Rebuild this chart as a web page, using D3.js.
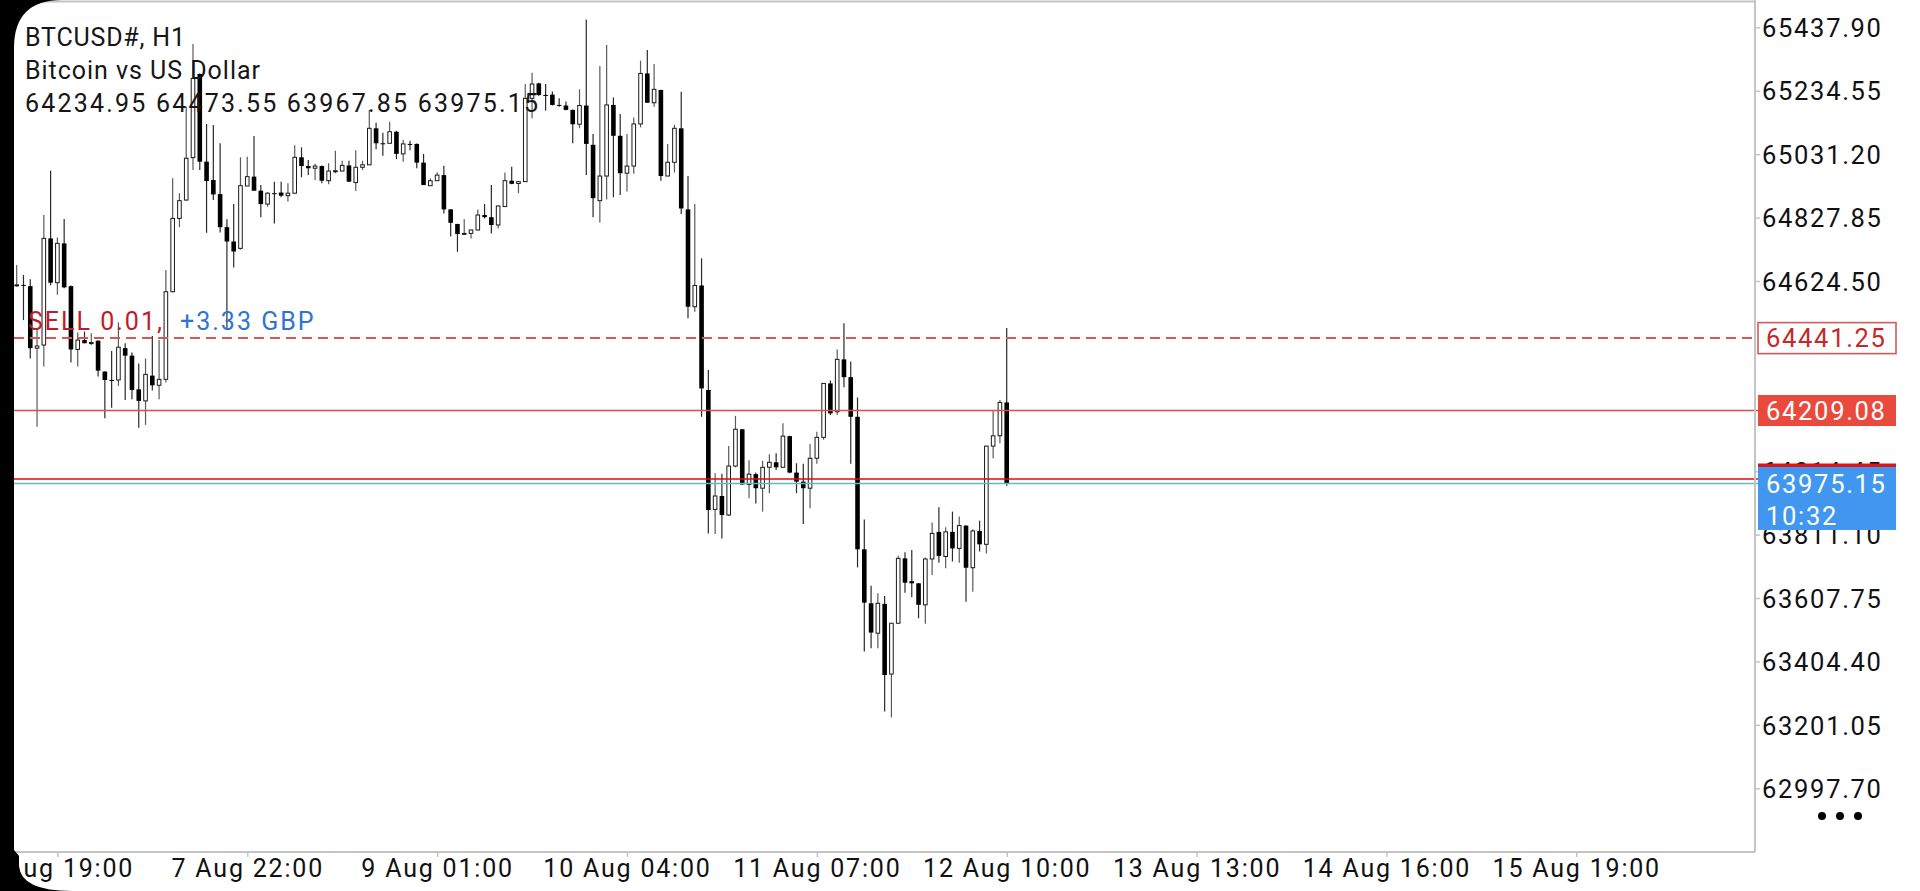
<!DOCTYPE html>
<html>
<head>
<meta charset="utf-8">
<script src="https://cdn.jsdelivr.net/npm/d3@7/dist/d3.min.js"></script>
<style>
  html, body { margin: 0; padding: 0; background: #000; overflow: hidden; }
  svg { display: block; }
  text { font-family: Roboto, "Noto Sans", Arial, sans-serif; }
</style>
</head>
<body>
<svg id="chart" width="1920" height="891"></svg>
<script>
// ---------------- DATA ----------------
const symbolTitle = "BTCUSD#, H1";
const symbolDesc = "Bitcoin vs US Dollar";

const opens = [64610,64612,64608,64409,64419,64761,64619,64745,64608,64405,64435,64425,64433,64334,64307,64307,64409,64385,64277,64240,
64321,64290,64309,64590,64825,64884,65020,65288,65007,64948,64903,64797,64751,64729,64929,64959,64914,64871,64906,64908,
64898,64906,65021,64993,64986,64993,64946,64977,64977,64995,64940,64989,64997,65114,65066,65066,65103,65032,65064,65064,
65004,64930,64946,64964,64854,64807,64775,64777,64788,64836,64829,64804,64863,64946,64937,64943,65210,65258,65221,65222,
65189,65187,65173,65127,65187,65061,64882,64961,65189,65090,64970,64993,65128,65290,65196,65237,64961,65005,65114,64854,
64542,64610,64275,63892,63935,63874,64031,64149,63972,64005,63960,64027,64043,64027,64127,64010,63981,63960,64056,64123,
64296,64205,64373,64316,64189,63764,63591,63495,63589,63364,63527,63735,63662,63655,63586,63733,63820,63741,63820,63767,
63840,63705,63823,63780,64095,64128,64234.95];
const highs = [64676,64644,64630,64467,64836,64978,64764,64823,64610,64459,64462,64457,64434,64335,64400,64492,64425,64395,64360,64376,
64448,64435,64660,64954,64906,65183,65384,65290,65128,65125,65066,64822,64871,65021,65023,65089,64932,64909,64943,64943,
64938,65060,65053,65012,65000,64995,65002,65042,65010,65010,65044,65010,65173,65132,65100,65135,65106,65077,65074,65065,
65032,64954,64973,64994,64855,64808,64822,64789,64854,64871,64932,64866,64972,64991,64944,65256,65292,65260,65256,65232,
65210,65200,65174,65239,65463,65096,65314,65381,65213,65160,65096,65149,65331,65365,65320,65238,65064,65125,65231,64961,
64871,64697,64339,64008,64006,64095,64192,64150,64050,64010,64048,64069,64072,64168,64128,64040,64038,64102,64141,64297,
64305,64405,64489,64366,64251,63860,63647,63623,63614,63528,63743,63755,63762,63656,63738,63850,63899,63835,63885,63869,
63841,63828,63856,64096,64209,64243,64473.55];
const lows = [64606,64499,64376,64157,64350,64611,64580,64601,64363,64350,64424,64419,64318,64184,64218,64288,64243,64245,64154,64163,
64273,64245,64299,64588,64797,64882,64980,64980,64779,64884,64780,64469,64668,64725,64929,64914,64829,64863,64809,64893,
64879,64905,64957,64964,64948,64938,64935,64970,64976,64942,64913,64980,64996,65047,65026,65065,65015,65007,65044,64986,
64932,64930,64946,64841,64767,64718,64774,64761,64786,64825,64777,64793,64862,64935,64906,64942,65146,65218,65171,65187,
65183,65172,65066,65114,64964,64829,64812,64886,64893,64900,64911,64968,65117,65196,65183,64946,64960,64972,64839,64505,
64526,64189,63815,63813,63799,63871,64027,63970,63928,63911,63885,63944,64018,64026,64008,63944,63845,63896,64038,64115,
64195,64195,64284,64038,63706,63436,63447,63447,63244,63225,63526,63625,63610,63543,63525,63682,63721,63703,63725,63721,
63596,63628,63757,63751,64056,64104,63967.85];
const closes = [64612,64610,64409,64416,64761,64619,64745,64604,64405,64435,64425,64427,64337,64307,64305,64412,64385,64275,64240,64325,
64290,64309,64590,64825,64882,65018,65274,65007,64945,64902,64797,64751,64719,64930,64959,64914,64871,64906,64905,64898,
64906,65021,64993,64986,64993,64946,64977,64978,64995,64943,64989,64997,65114,65066,65065,65103,65032,65064,65063,65004,
64932,64946,64964,64854,64811,64775,64777,64788,64836,64829,64804,64865,64946,64936,64943,65210,65256,65221,65220,65189,
65187,65173,65127,65187,65064,64890,64961,65189,65090,64970,64993,65128,65290,65196,65239,64961,65005,65114,64857,64542,
64610,64280,63890,63935,63874,64031,64149,63972,64005,63960,64027,64043,64027,64127,64010,63981,63960,64056,64123,64296,
64200,64373,64316,64189,63764,63593,63497,63591,63361,63527,63735,63657,63655,63586,63733,63815,63743,63820,63767,63840,
63705,63823,63780,64095,64128,64235,63975.15];

// price axis tick labels (the two behind the trade-line labels are hidden in the reference)
const priceTicks = [65437.90,65234.55,65031.20,64827.85,64624.50,64014.45,63811.10,63607.75,63404.40,63201.05,62997.70];
// time axis labels (every 28 bars, first one at bar 6)
const timeLabels = ["6 Aug 19:00","7 Aug 22:00","9 Aug 01:00","10 Aug 04:00","11 Aug 07:00","12 Aug 10:00","13 Aug 13:00","14 Aug 16:00","15 Aug 19:00"];

// trade / price lines
const positionPrice = 64441.25;   // dashed
const stopPrice = 64209.08;       // solid red w/ filled label
const askPrice = 63989.45;
const bidPrice = 63975.15;
const bidTime = "10:32";
const positionText = "SELL 0.01,";
const profitText = "+3.33 GBP";

// ---------------- LAYOUT ----------------
const W = 1920, H = 891;
const plotLeft = 14, plotRight = 1755, plotTop = 2, plotBottom = 852;

const svg = d3.select("#chart");

// white screen
svg.append("rect").attr("x", 0).attr("y", 0).attr("width", W).attr("height", H).attr("fill", "#fff");

const n = opens.length;
const x = d3.scaleLinear().domain([0, n - 1]).range([16.7, 1006.7]);
const y = d3.scaleLinear().domain([65437.90, 62997.70]).range([27.3, 788.3]);

// clip for plot
svg.append("defs").append("clipPath").attr("id", "plotClip")
  .append("rect").attr("x", plotLeft).attr("y", plotTop).attr("width", plotRight - plotLeft).attr("height", plotBottom - plotTop);

const plot = svg.append("g").attr("clip-path", "url(#plotClip)");

const candles = d3.range(n).map(i => ({ i, o: opens[i], h: highs[i], l: lows[i], c: closes[i] }));

// wicks
plot.append("g").selectAll("line").data(candles).join("line")
  .attr("x1", d => x(d.i)).attr("x2", d => x(d.i))
  .attr("y1", d => y(d.h)).attr("y2", d => y(d.l))
  .attr("stroke", d => d.c >= d.o ? "#5a5a5a" : "#2a2a2a")
  .attr("stroke-width", 1.2);

// bodies
const bw = 4.6;
plot.append("g").selectAll("rect").data(candles).join("rect")
  .attr("x", d => x(d.i) - (d.c >= d.o ? (bw - 1) / 2 : bw / 2))
  .attr("width", d => d.c >= d.o ? bw - 1 : bw)
  .attr("y", d => y(Math.max(d.o, d.c)))
  .attr("height", d => Math.max(1, Math.abs(y(d.o) - y(d.c))))
  .attr("fill", d => d.c >= d.o ? "#fff" : "#000")
  .attr("stroke", d => d.c >= d.o ? "#1a1a1a" : "none")
  .attr("stroke-width", 1);

// horizontal price lines (drawn over candles)
const lines = svg.append("g");
lines.append("line").attr("x1", plotLeft).attr("x2", plotRight + 4)
  .attr("y1", y(positionPrice)).attr("y2", y(positionPrice))
  .attr("stroke", "#dc5454").attr("stroke-width", 2).attr("stroke-dasharray", "10,6");
lines.append("line").attr("x1", plotLeft).attr("x2", plotRight + 4)
  .attr("y1", y(stopPrice)).attr("y2", y(stopPrice))
  .attr("stroke", "#e24a4a").attr("stroke-width", 1.5);
lines.append("line").attr("x1", plotLeft).attr("x2", plotRight + 4)
  .attr("y1", y(bidPrice)).attr("y2", y(bidPrice))
  .attr("stroke", "#66b6c8").attr("stroke-width", 1.4);
lines.append("line").attr("x1", plotLeft).attr("x2", plotRight + 4)
  .attr("y1", y(askPrice)).attr("y2", y(askPrice))
  .attr("stroke", "#e00a0a").attr("stroke-width", 1.7);

// borders
svg.append("line").attr("x1", 30).attr("x2", plotRight).attr("y1", 1.5).attr("y2", 1.5)
  .attr("stroke", "#c4c4c4").attr("stroke-width", 2);
svg.append("line").attr("x1", plotRight).attr("x2", plotRight).attr("y1", 0).attr("y2", plotBottom)
  .attr("stroke", "#c4c4c4").attr("stroke-width", 2);
svg.append("line").attr("x1", 0).attr("x2", plotRight).attr("y1", plotBottom).attr("y2", plotBottom)
  .attr("stroke", "#c4c4c4").attr("stroke-width", 2);

// price axis
const yAxis = d3.axisRight(y).tickValues(priceTicks).tickFormat(d => d.toFixed(2)).tickSize(5).tickPadding(2);
const yAxisG = svg.append("g").attr("transform", `translate(${plotRight},0)`).call(yAxis);
yAxisG.select(".domain").remove();
yAxisG.selectAll(".tick line").attr("stroke", "#c4c4c4").attr("stroke-width", 1.5);
yAxisG.selectAll(".tick text").attr("fill", "#111").attr("font-size", "25.5px")
  .attr("letter-spacing", "1.7px").attr("dy", "0.36em").attr("font-family", "Roboto");

// time axis
const tickIdx = timeLabels.map((_, j) => 6 + 28 * j);
const xAxis = d3.axisBottom(x).tickValues(tickIdx).tickFormat((d, j) => timeLabels[j]).tickSize(5).tickPadding(2);
const xAxisG = svg.append("g").attr("transform", `translate(0,${plotBottom})`).call(xAxis);
xAxisG.select(".domain").remove();
xAxisG.selectAll(".tick line").attr("stroke", "#c4c4c4").attr("stroke-width", 1.5);
xAxisG.selectAll(".tick text").attr("fill", "#111").attr("font-size", "25px")
  .attr("letter-spacing", "1.8px").attr("font-family", "Roboto");

// price label boxes
const labelFont = { size: "25.5px", ls: "1.7px" };
function boxLabel(price, txt, fill, stroke, color, top, h) {
  const g = svg.append("g");
  g.append("rect").attr("x", 1758).attr("y", top).attr("width", 138).attr("height", h)
    .attr("fill", fill).attr("stroke", stroke).attr("stroke-width", stroke === "none" ? 0 : 1.6);
  g.append("text").attr("x", 1766).attr("y", y(price)).attr("dy", "0.36em")
    .attr("fill", color).attr("font-size", labelFont.size).attr("letter-spacing", labelFont.ls).text(txt);
  return g;
}
boxLabel(positionPrice, positionPrice.toFixed(2), "#fff", "#d45a5a", "#c62828", y(positionPrice) - 15.5, 31);
boxLabel(stopPrice, stopPrice.toFixed(2), "#ea4a3e", "none", "#fff", y(stopPrice) - 15.5, 31);
// ask label (mostly hidden behind bid label)
svg.append("rect").attr("x", 1758).attr("y", y(askPrice) - 15.5).attr("width", 138).attr("height", 31).attr("fill", "#e01414");
// bid label with time
const bidG = svg.append("g");
bidG.append("rect").attr("x", 1758).attr("y", y(bidPrice) - 16.5).attr("width", 138).attr("height", 63).attr("fill", "#4197ef");
bidG.append("text").attr("x", 1766).attr("y", y(bidPrice)).attr("dy", "0.36em").attr("fill", "#fff")
  .attr("font-size", labelFont.size).attr("letter-spacing", labelFont.ls).text(bidPrice.toFixed(2));
bidG.append("text").attr("x", 1766).attr("y", y(bidPrice) + 32.5).attr("dy", "0.36em").attr("fill", "#fff")
  .attr("font-size", labelFont.size).attr("letter-spacing", labelFont.ls).text(bidTime);

// three dots menu
svg.append("g").selectAll("circle").data([0, 1, 2]).join("circle")
  .attr("cx", d => 1822 + d * 18).attr("cy", 816).attr("r", 4).attr("fill", "#000");

// header text
const header = svg.append("g").attr("fill", "#161616").attr("font-size", "25px");
header.append("text").attr("x", 25).attr("y", 45.5).attr("textLength", 160).attr("lengthAdjust", "spacing").text(symbolTitle);
header.append("text").attr("x", 25).attr("y", 78.5).attr("textLength", 235).attr("lengthAdjust", "spacing").text(symbolDesc);
const last = n - 1;
header.append("text").attr("x", 25).attr("y", 111.5).attr("textLength", 513).attr("lengthAdjust", "spacing")
  .text([opens[last], highs[last], lows[last], closes[last]].map(v => v.toFixed(2)).join(" "));

// position label
svg.append("text").attr("x", 28).attr("y", 330).attr("fill", "#c01c28").attr("font-size", "25px")
  .attr("letter-spacing", "2px").text(positionText);
svg.append("text").attr("x", 180).attr("y", 330).attr("fill", "#2f74d2").attr("font-size", "25px")
  .attr("letter-spacing", "2px").text(profitText);

// phone frame (black rounded edge on the left)
svg.append("path")
  .attr("d", "M0,0 L62,0 Q14,0 14,48 L14,850 L19,856 L19,866 Q21,891 72,891 L0,891 Z")
  .attr("fill", "#000");
</script>
</body>
</html>
